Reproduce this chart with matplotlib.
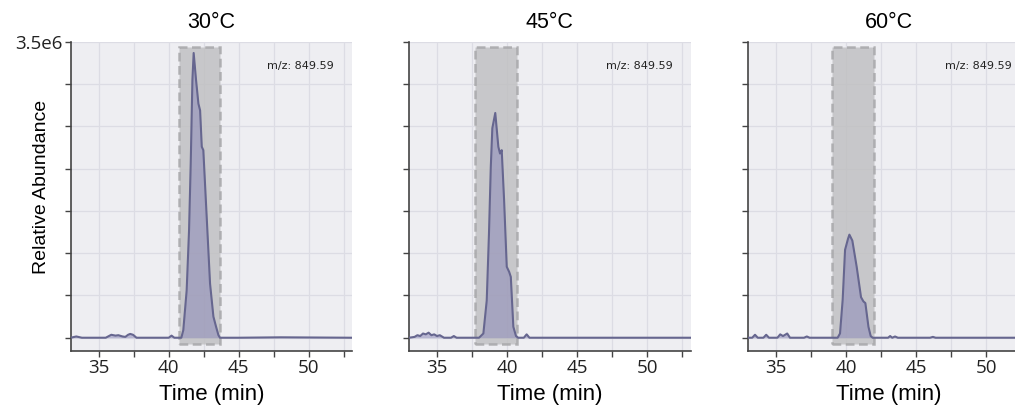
import numpy as np
import matplotlib
matplotlib.use('Agg')
import matplotlib.pyplot as plt
from matplotlib.patches import Rectangle
from matplotlib.ticker import MultipleLocator, FuncFormatter

# panel titles and the m/z tag
titles = ['30°C', '45°C', '60°C']
mz_label = 'm/z: 849.59'

# traces, time in min, abundance in 1e6
t_30 = [33.0, 33.4, 33.8, 35.5, 35.9, 36.2, 36.4, 36.7, 36.9, 37.1, 37.25, 37.45, 37.7,
        40.0, 40.2, 40.4, 40.9, 41.04, 41.28, 41.45, 41.57, 41.69, 41.78, 41.95, 42.12,
        42.24, 42.36, 42.47, 42.71, 42.95, 43.19, 43.38, 43.55, 43.66, 45.0, 48.0, 53.1]
v_30 = [0.0, 0.015, 0.0, 0.0, 0.035, 0.025, 0.03, 0.015, 0.01, 0.035, 0.045, 0.035, 0.0,
        0.0, 0.025, 0.0, 0.0, 0.09, 0.56, 1.27, 2.06, 3.05, 3.37, 3.05, 2.77,
        2.69, 2.26, 2.22, 1.43, 0.64, 0.25, 0.13, 0.03, 0.0, 0.0, 0.005, 0.0]

t_45 = [33.0, 33.4, 33.6, 33.8, 34.0, 34.2, 34.4, 34.6, 34.8, 35.0, 35.2, 35.5, 36.0,
        36.2, 36.4, 38.0, 38.31, 38.55, 38.71, 38.84, 38.95, 39.16, 39.38, 39.5, 39.62,
        39.79, 39.98, 40.15, 40.27, 40.45, 40.64, 40.8, 41.2, 41.4, 41.6, 42.0, 53.1]
v_45 = [0.0, 0.01, 0.03, 0.02, 0.05, 0.04, 0.06, 0.03, 0.04, 0.02, 0.03, 0.0, 0.0,
        0.02, 0.0, 0.0, 0.05, 0.44, 1.23, 2.02, 2.48, 2.66, 2.26, 2.18, 2.22,
        1.63, 0.84, 0.78, 0.72, 0.13, 0.02, 0.0, 0.0, 0.04, 0.0, 0.0, 0.0]

t_60 = [33.0, 33.3, 33.5, 33.7, 34.1, 34.3, 34.5, 35.1, 35.3, 35.5, 35.8, 36.0, 36.3,
        37.0, 37.2, 37.4, 39.4, 39.57, 39.76, 39.93, 40.14, 40.24, 40.45, 40.76, 41.07,
        41.24, 41.38, 41.6, 41.76, 41.9, 43.0, 43.15, 43.3, 43.5, 43.7, 46.0, 46.2, 46.4, 53.1]
v_60 = [0.0, 0.0, 0.035, 0.0, 0.0, 0.035, 0.0, 0.0, 0.04, 0.02, 0.05, 0.0, 0.0,
        0.0, 0.015, 0.0, 0.0, 0.05, 0.45, 1.04, 1.17, 1.22, 1.15, 0.84, 0.48,
        0.43, 0.41, 0.13, 0.02, 0.0, 0.0, 0.02, 0.0, 0.015, 0.0, 0.0, 0.01, 0.0, 0.0]

# integration windows (start, end) in min
windows = [(40.75, 43.65), (37.7, 40.7), (39.0, 42.0)]

times = [t_30, t_45, t_60]
values = [v_30, v_45, v_60]

W, H = 1015, 412
fig = plt.figure(figsize=(W / 100, H / 100), dpi=100)

bg = '#EEEEF2'
line_c = '#66668F'
fill_c = '#8C89B8'

lefts = [70.7, 409, 748]
ax_w = 281.5
ax_top, ax_bot = 42, 351

for i in range(3):
    ax = fig.add_axes([lefts[i] / W, (H - ax_bot) / H, ax_w / W, (ax_bot - ax_top) / H])
    ax.set_facecolor(bg)
    ax.set_xlim(33, 53.1)
    ax.set_ylim(-0.157e6, 3.5e6)

    t = np.array(times[i])
    v = np.array(values[i]) * 1e6

    s, e = windows[i]
    ax.add_patch(Rectangle((s, -0.075e6), e - s, 3.515e6, facecolor='#BEBEC0', alpha=0.8,
                           edgecolor='#A4A4A6', linestyle=(0, (3.5, 1.8)), linewidth=1.8, zorder=2))

    ax.fill_between(t, 0, v, color=fill_c, alpha=0.55, linewidth=0, zorder=3)
    ax.plot(t, v, color=line_c, linewidth=1.5, zorder=4)

    ax.xaxis.set_major_locator(MultipleLocator(2.5))
    ax.xaxis.set_major_formatter(FuncFormatter(lambda x, p: '%d' % x if abs(x % 5) < 1e-6 else ''))
    ax.yaxis.set_major_locator(MultipleLocator(0.5e6))
    if i == 0:
        ax.yaxis.set_major_formatter(FuncFormatter(lambda y, p: '3.5e6' if abs(y - 3.5e6) < 1 else ''))
        ax.set_ylabel('Relative Abundance', fontsize=14, family='Liberation Sans')
        ax.yaxis.set_label_coords(-0.072, 0.53)
    else:
        ax.yaxis.set_major_formatter(FuncFormatter(lambda y, p: ''))

    ax.grid(True, color='#DCDCE4', linewidth=0.9, zorder=0)
    ax.set_axisbelow(True)
    for sp in ['top', 'right']:
        ax.spines[sp].set_visible(False)
    for sp in ['left', 'bottom']:
        ax.spines[sp].set_color('#444444')
        ax.spines[sp].set_linewidth(1.2)
    ax.tick_params(axis='both', direction='out', length=4, width=1, color='#444444',
                   labelsize=13.5, labelcolor='#222222', pad=2)
    for lab in ax.get_xticklabels() + ax.get_yticklabels():
        lab.set_family('Open Sans')

    ax.set_title(titles[i], fontsize=15.5, family='Liberation Sans', pad=10)
    ax.set_xlabel('Time (min)', fontsize=16, family='Liberation Sans', labelpad=5)
    ax.text(0.936, 0.922, mz_label, transform=ax.transAxes, ha='right', va='center',
            fontsize=8, color='#222222', family='DejaVu Sans', zorder=5)

fig.savefig('out.png', dpi=100)
